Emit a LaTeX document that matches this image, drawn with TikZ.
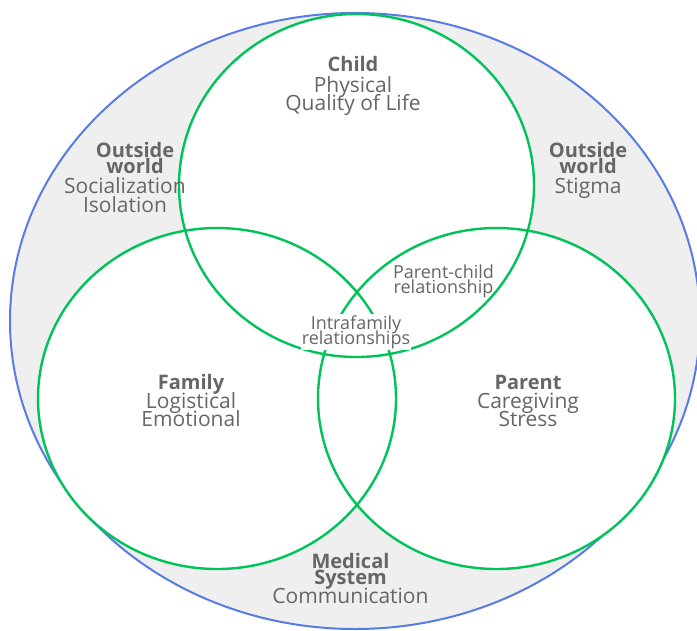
\documentclass[tikz,border=0pt]{standalone}
\usepackage{fontspec}
\setmainfont{Open Sans}
\definecolor{venngreen}{RGB}{0,196,90}
\definecolor{vennblue}{RGB}{88,124,228}
\definecolor{venngray}{RGB}{239,239,239}
\definecolor{txtgray}{RGB}{102,102,102}
\newcommand{\tagfont}{\fontsize{18}{15}\selectfont\lineskiplimit=-20pt\relax}
\tikzset{
  head/.style={font=\bfseries\fontsize{20}{20}\selectfont,text=txtgray,anchor=base,inner sep=0pt,
    text height=14pt,text depth=2pt},
  body/.style={font=\fontsize{21}{21}\selectfont,text=txtgray,anchor=base,inner sep=0pt,
    text height=14pt,text depth=4pt},
  small/.style={font=\tagfont,text=txtgray,inner sep=1pt},
}

\begin{document}
\begin{tikzpicture}[line cap=round,line join=round,x=1pt,y=-1pt]
			\useasboundingbox (0,0) rectangle (697,630);
			\clip (0,0) rectangle (697,630);
			% outer world
			\draw [line width=2pt,color=vennblue,fill=venngray] (355,321) ellipse (345 and 308);
			% three circles: child, family, parent
			\fill [white] (356.5,185.5) ellipse (177.5 and 171.5);
			\fill [white] (217,398.5) ellipse (179 and 170.5);
			\fill [white] (496.5,398.5) ellipse (178.5 and 170.5);
			\draw [line width=2.4pt,color=venngreen] (356.5,185.5) ellipse (177.5 and 171.5);
			\draw [line width=2.4pt,color=venngreen] (217,398.5) ellipse (179 and 170.5);
			\draw [line width=2.4pt,color=venngreen] (496.5,398.5) ellipse (178.5 and 170.5);
			% child
			\node [head] (child) at (353,71) {Child};
			\node [body] (childa) at (353,92) {Physical};
			\node [body] (childb) at (353,110) {Quality of Life};
			% outside world, left
			\node [head] (owla) at (135,157) {Outside};
			\node [head] (owlb) at (135,173) {world};
			\node [body] (owlc) at (125,193) {Socialization};
			\node [body] (owld) at (125,212) {Isolation};
			% outside world, right
			\node [head] (owra) at (588,157) {Outside};
			\node [head] (owrb) at (588,173) {world};
			\node [body] (owrc) at (588,193) {Stigma};
			% family
			\node [head] (family) at (191,389) {Family};
			\node [body] (familya) at (191,408) {Logistical};
			\node [body] (familyb) at (191,426) {Emotional};
			% parent
			\node [head] (parent) at (528,389) {Parent};
			\node [body] (parenta) at (528,408) {Caregiving};
			\node [body] (parentb) at (528,426) {Stress};
			% medical system
			\node [head] (meda) at (350.5,568) {Medical};
			\node [head] (medb) at (350.5,584) {System};
			\node [body] (medc) at (350.5,603) {Communication};
			% overlaps
			\node [small,anchor=base,text height=12pt,text depth=3pt,inner sep=0pt] (pca) at (443.5,278) {Parent-child};
			\node [small,anchor=base,text height=12pt,text depth=3pt,inner sep=0pt] (pcb) at (443.5,293) {relationship};
			\node [small,align=center,fill=white] (intra) at (356,332) {Intrafamily\\relationships};
\end{tikzpicture}
\end{document}
